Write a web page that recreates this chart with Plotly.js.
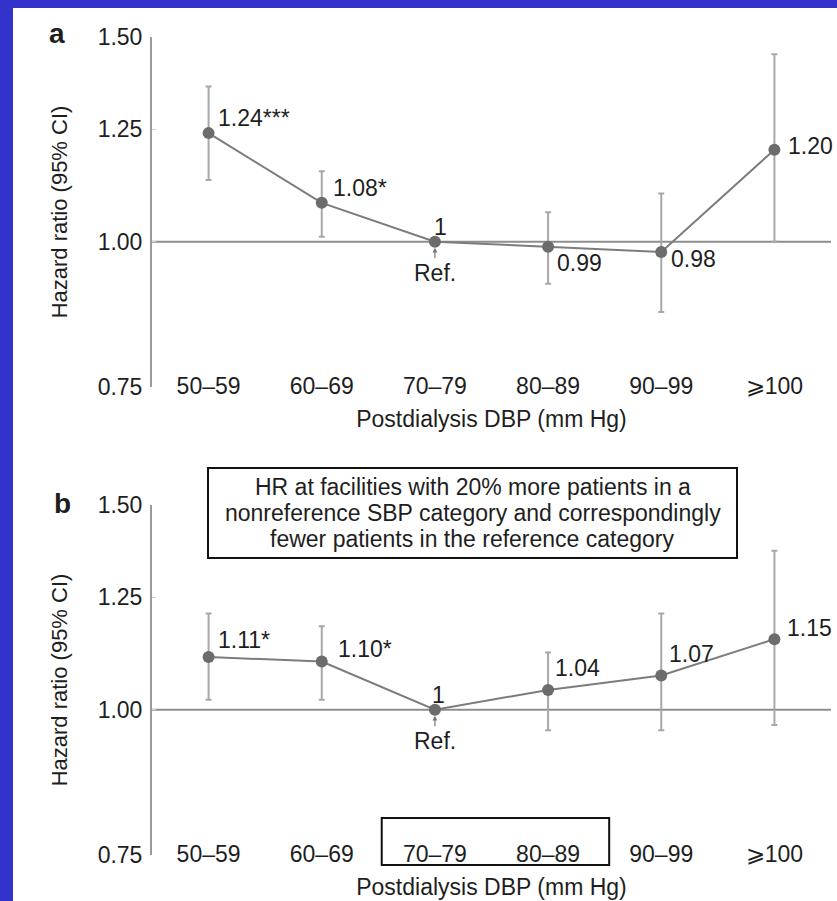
<!DOCTYPE html>
<html><head><meta charset="utf-8">
<script src="https://cdn.plot.ly/plotly-3.0.1.min.js"></script>
<style>html,body{margin:0;padding:0;background:#fff;overflow:hidden}#chart{width:837px;height:901px}</style>
</head><body><div id="chart"></div>
<script>
// ---- data ----
const categories = ['50–59','60–69','70–79','80–89','90–99','⩾100'];
const yTickVals = [0.75, 1.00, 1.25, 1.50];
const yTickText = ['0.75','1.00','1.25','1.50'];

const hrA     = [1.24, 1.08, 1.00, 0.99, 0.98, 1.20];
const ciLowA  = [1.13, 1.01, 1.00, 0.92, 0.87, 1.00];
const ciHighA = [1.36, 1.15, 1.00, 1.06, 1.10, 1.45];
const labelsA = ['1.24***','1.08*','1','0.99','0.98','1.20'];

const hrB     = [1.11, 1.10, 1.00, 1.04, 1.07, 1.15];
const ciLowB  = [1.02, 1.02, 1.00, 0.96, 0.96, 0.97];
const ciHighB = [1.21, 1.18, 1.00, 1.12, 1.21, 1.37];
const labelsB = ['1.11*','1.10*','1','1.04','1.07','1.15'];

const refIndex = 2;
const boxLines = ['HR at facilities with 20% more patients in a',
                  'nonreference SBP category and correspondingly',
                  'fewer patients in the reference category'];
const xTitle = 'Postdialysis DBP (mm Hg)';
const yTitle = 'Hazard ratio (95% CI)';

// ---- styling / layout helpers ----
const W = 837, H = 901;
const FONT = 'Arial, "Liberation Sans", sans-serif';
const FS = 23;
const TXT = '#1e1e1e';
const xIdx = categories.map((c, i) => i);
const xDom = [152 / W, 831 / W];
const yDomA = [1 - 387 / H, 1 - 37 / H];
const yDomB = [1 - 855 / H, 1 - 505 / H];
const yRange = [Math.log10(0.7499), Math.log10(1.5001)];
const px = v => v / W, py = v => 1 - v / H;

// label offsets (style, not data): [xanchor, xshift, yshift]
const offA = [['left',7,15],['left',9,15],['center',6,15],['left',7,-16],['left',8,-7],['left',12,4]];
const offB = [['left',7,17],['left',14,13],['center',4,15],['left',5,22],['left',6,22],['left',11,11]];

function trace(hr, lo, hi, xa, ya) {
  return {
    type: 'scatter', mode: 'lines+markers', x: xIdx, y: hr, xaxis: xa, yaxis: ya,
    line: {color: '#7c7c7c', width: 2},
    marker: {color: '#6c6c6c', size: 12},
    error_y: {type: 'data', symmetric: false,
      array: hi.map((v, i) => v - hr[i]), arrayminus: lo.map((v, i) => hr[i] - v),
      color: '#a8a8a8', thickness: 2, width: 3},
    hoverinfo: 'skip', showlegend: false
  };
}

function xAxis(anchor) {
  return {domain: xDom, anchor: anchor, range: [-0.5, categories.length - 0.5],
    tickvals: xIdx, ticktext: categories, ticks: '', showline: false, showgrid: false,
    zeroline: false, ticklabelstandoff: -17,
    tickfont: {family: FONT, size: FS, color: TXT},
    title: {text: xTitle, font: {family: FONT, size: FS, color: TXT}, standoff: 12}};
}
function yAxis(anchor, dom) {
  return {domain: dom, anchor: anchor, type: 'log', range: yRange,
    tickvals: yTickVals, ticktext: yTickText, ticks: 'inside', ticklen: 4, tickcolor: '#d0d0d0',
    showline: true, linecolor: '#9a9a9a', linewidth: 2, showgrid: false, zeroline: false,
    ticklabelstandoff: 3,
    tickfont: {family: FONT, size: FS, color: TXT},
    title: {text: yTitle, font: {family: FONT, size: 22, color: TXT}, standoff: 24}};
}

const annotations = [];
function pointLabels(hr, labels, off, xa, ya) {
  hr.forEach((v, i) => {
    annotations.push({x: i, y: Math.log10(v), xref: xa, yref: ya, text: labels[i], showarrow: false,
      xanchor: off[i][0], yanchor: 'middle', xshift: off[i][1], yshift: off[i][2],
      font: {family: FONT, size: FS, color: TXT}});
  });
  annotations.push({x: refIndex, y: 0, xref: xa, yref: ya, text: 'Ref.', showarrow: true,
    ax: 0, ay: 31, arrowhead: 2, arrowsize: 0.8, arrowwidth: 1.2, arrowcolor: '#777', standoff: 6,
    font: {family: FONT, size: FS, color: TXT}});
}
pointLabels(hrA, labelsA, offA, 'x', 'y');
pointLabels(hrB, labelsB, offB, 'x2', 'y2');

annotations.push({x: px(57), y: py(34), xref: 'paper', yref: 'paper', text: '<b>a</b>', showarrow: false,
  xanchor: 'center', yanchor: 'middle', font: {family: FONT, size: 28, color: TXT}});
annotations.push({x: px(62), y: py(503), xref: 'paper', yref: 'paper', text: '<b>b</b>', showarrow: false,
  xanchor: 'center', yanchor: 'middle', font: {family: FONT, size: 28, color: TXT}});
// boxed note in panel b
const boxLineY = [487, 513, 539];
boxLines.forEach((t, i) => {
  annotations.push({x: px(472.5), y: py(boxLineY[i]), xref: 'paper', yref: 'paper', text: t, showarrow: false,
    xanchor: 'center', yanchor: 'middle', font: {family: FONT, size: FS, color: TXT}});
});

const shapes = [];
// blue frame
shapes.push({type: 'rect', xref: 'paper', yref: 'paper', x0: 0, x1: px(13), y0: 0, y1: 1, fillcolor: '#3333cc', line: {width: 0}, layer: 'below'});
shapes.push({type: 'rect', xref: 'paper', yref: 'paper', x0: 0, x1: 1, y0: py(8), y1: 1, fillcolor: '#3333cc', line: {width: 0}, layer: 'below'});
// note box
shapes.push({type: 'rect', xref: 'paper', yref: 'paper', x0: px(208), x1: px(737), y0: py(558), y1: py(468),
  line: {color: '#111', width: 2}, fillcolor: 'rgba(0,0,0,0)'});
// reference lines at HR = 1 with category-boundary ticks
[['x','y'],['x2','y2']].forEach(([xa, ya]) => {
  shapes.push({type: 'line', xref: xa, yref: ya, x0: -0.5, x1: categories.length - 0.5, y0: 1, y1: 1,
    line: {color: '#8e8e8e', width: 2}, layer: 'below'});
  xIdx.forEach(i => {
    shapes.push({type: 'line', xref: xa, yref: ya, x0: i + 0.5, x1: i + 0.5, ysizemode: 'pixel', yanchor: 1,
      y0: 0, y1: -5, line: {color: '#8e8e8e', width: 1.5}, layer: 'below'});
  });
});
// highlight box around 70–79 / 80–89 in panel b
shapes.push({type: 'rect', xref: 'x2', yref: 'paper', x0: 1.53, x1: 3.54, y0: py(865), y1: py(818),
  line: {color: '#111', width: 2}, fillcolor: 'rgba(0,0,0,0)'});

const data = [trace(hrA, ciLowA, ciHighA, 'x', 'y'), trace(hrB, ciLowB, ciHighB, 'x2', 'y2')];
const layout = {
  width: W, height: H, margin: {l: 0, r: 0, t: 0, b: 0},
  paper_bgcolor: '#fff', plot_bgcolor: 'rgba(0,0,0,0)',
  xaxis: xAxis('y'), yaxis: yAxis('x', yDomA),
  xaxis2: xAxis('y2'), yaxis2: yAxis('x2', yDomB),
  annotations: annotations, shapes: shapes, showlegend: false
};
Plotly.newPlot('chart', data, layout, {staticPlot: true});
</script></body></html>
